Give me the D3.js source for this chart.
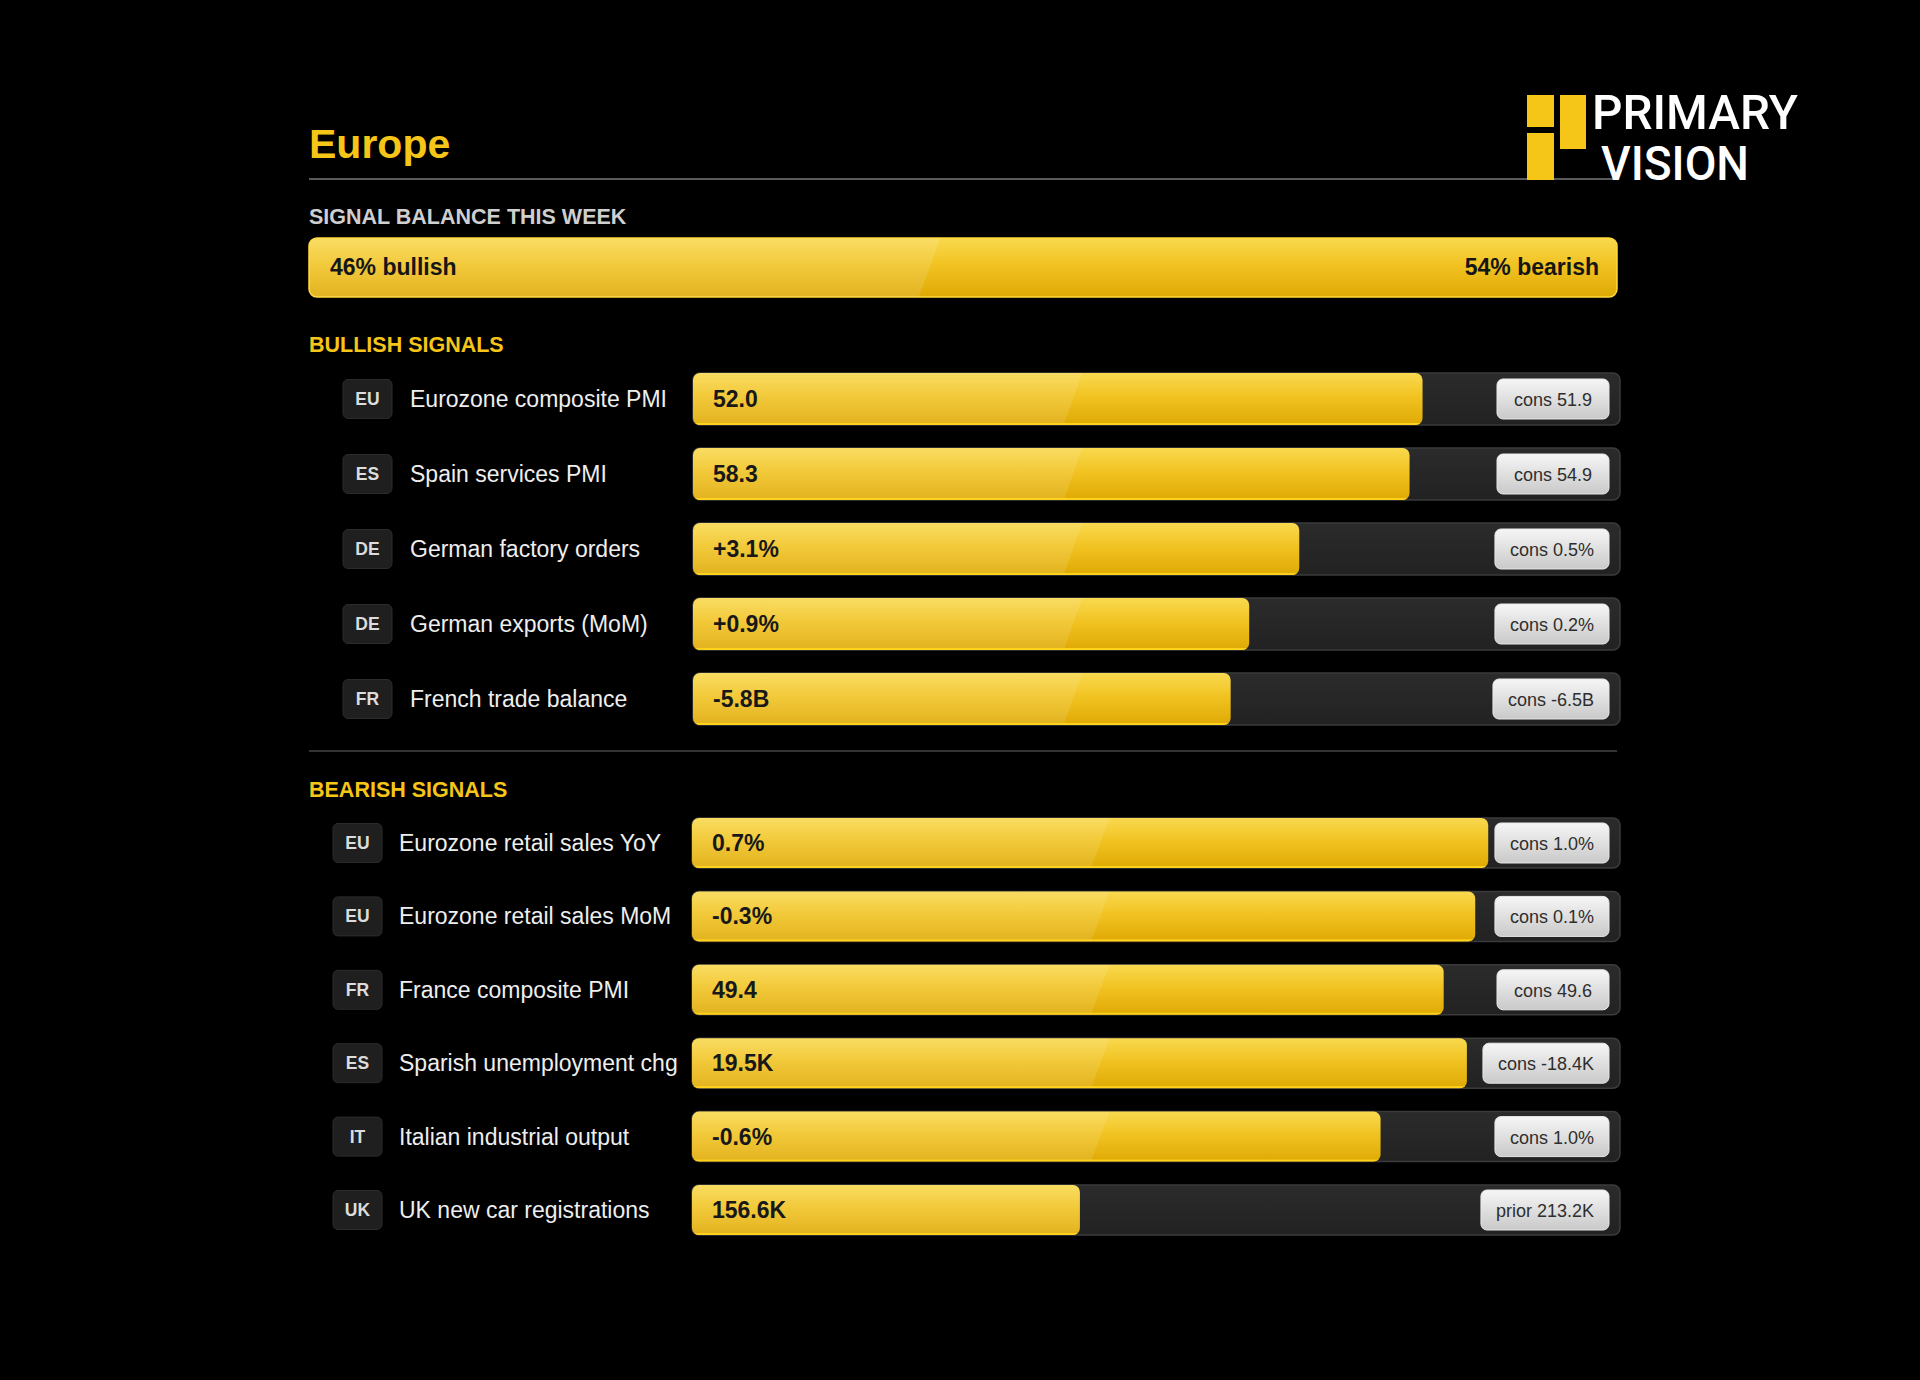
<!DOCTYPE html>
<html>
<head>
<meta charset="utf-8">
<script src="https://cdn.jsdelivr.net/npm/d3@7"></script>
<style>
  body { margin: 0; background: #000; }
  svg { display: block; }
</style>
</head>
<body>
<div id="chart"></div>
<script>
// signal balance
const balanceLabels = ["46% bullish", "54% bearish"];
const balanceShares = [46, 54];

// bullish rows
const bullishCodes = ["EU", "ES", "DE", "DE", "FR"];
const bullishNames = ["Eurozone composite PMI", "Spain services PMI", "German factory orders",
    "German exports (MoM)", "French trade balance"];
const bullishValues = ["52.0", "58.3", "+3.1%", "+0.9%", "-5.8B"];
const bullishRefs = ["cons 51.9", "cons 54.9", "cons 0.5%", "cons 0.2%", "cons -6.5B"];
const bullishScores = [78.7, 77.3, 65.4, 60.0, 58.0];

// bearish rows
const bearishCodes = ["EU", "EU", "FR", "ES", "IT", "UK"];
const bearishNames = ["Eurozone retail sales YoY", "Eurozone retail sales MoM", "France composite PMI",
    "Sparish unemployment chg", "Italian industrial output", "UK new car registrations"];
const bearishValues = ["0.7%", "-0.3%", "49.4", "19.5K", "-0.6%", "156.6K"];
const bearishRefs = ["cons 1.0%", "cons 0.1%", "cons 49.6", "cons -18.4K", "cons 1.0%", "prior 213.2K"];
const bearishScores = [85.8, 84.4, 81.0, 83.5, 74.2, 41.8];

const W = 1920, H = 1380;
const font = "'Liberation Sans', Arial, sans-serif";
const yellow = "#f5c518";

const svg = d3.select("#chart")
    .append("svg")
    .attr("width", W)
    .attr("height", H)
    .style("background", "#000");

const defs = svg.append("defs");

const gold = defs.append("linearGradient")
    .attr("id", "gold").attr("x1", 0).attr("y1", 0).attr("x2", 0).attr("y2", 1);
gold.append("stop").attr("offset", "0%").attr("stop-color", "#f9d94f");
gold.append("stop").attr("offset", "45%").attr("stop-color", "#f1c322");
gold.append("stop").attr("offset", "100%").attr("stop-color", "#dfa904");

const pill = defs.append("linearGradient")
    .attr("id", "pill").attr("x1", 0).attr("y1", 0).attr("x2", 0).attr("y2", 1);
pill.append("stop").attr("offset", "0%").attr("stop-color", "#f6f6f6");
pill.append("stop").attr("offset", "100%").attr("stop-color", "#c9c9c9");

const track = defs.append("linearGradient")
    .attr("id", "track").attr("x1", 0).attr("y1", 0).attr("x2", 0).attr("y2", 1);
track.append("stop").attr("offset", "0%").attr("stop-color", "#2b2b2b");
track.append("stop").attr("offset", "100%").attr("stop-color", "#222");

// header
svg.append("text")
    .attr("x", 309).attr("y", 158)
    .attr("font-family", font).attr("font-weight", "bold").attr("font-size", 41)
    .attr("fill", yellow)
    .text("Europe");

svg.append("line")
    .attr("x1", 309).attr("x2", 1617).attr("y1", 179).attr("y2", 179)
    .attr("stroke", "#5a5a5a").attr("stroke-width", 2);

// logo
const logo = svg.append("g");
logo.append("rect").attr("x", 1527).attr("y", 95).attr("width", 27).attr("height", 32).attr("fill", yellow);
logo.append("rect").attr("x", 1527).attr("y", 133).attr("width", 27).attr("height", 47).attr("fill", yellow);
logo.append("rect").attr("x", 1560).attr("y", 95).attr("width", 26).attr("height", 54).attr("fill", yellow);
const logoText = logo.append("text")
    .attr("font-family", "Roboto, sans-serif").attr("font-weight", 500).attr("font-size", 49)
    .attr("fill", "#fff");
logoText.append("tspan")
    .attr("x", 1592).attr("y", 129)
    .attr("textLength", 206).attr("lengthAdjust", "spacingAndGlyphs")
    .text("PRIMARY");
logoText.append("tspan")
    .attr("x", 1601).attr("y", 180)
    .attr("textLength", 148).attr("lengthAdjust", "spacingAndGlyphs")
    .text("VISION");

// signal balance bar
svg.append("text")
    .attr("x", 309).attr("y", 224)
    .attr("font-family", font).attr("font-weight", "bold").attr("font-size", 21.5)
    .attr("fill", "#cfcfcf")
    .text("SIGNAL BALANCE THIS WEEK");

const xBal = d3.scaleLinear().domain([0, 100]).range([309, 1617]);
const balTop = 238, balH = 59;
const cum = d3.cumsum(balanceShares);

svg.append("rect")
    .attr("x", xBal(0)).attr("y", balTop)
    .attr("width", xBal(100) - xBal(0)).attr("height", balH)
    .attr("rx", 8).attr("fill", "url(#gold)")
    .attr("stroke", "#ffd83a").attr("stroke-width", 1.5);

defs.append("clipPath").attr("id", "balClip")
    .append("rect")
    .attr("x", xBal(0)).attr("y", balTop)
    .attr("width", xBal(100) - xBal(0)).attr("height", balH).attr("rx", 8);

// lighter bullish side with slanted edge
svg.append("path")
    .attr("clip-path", "url(#balClip)")
    .attr("d", `M${xBal(0)},${balTop} L${xBal(cum[0]) + 30},${balTop} L${xBal(cum[0]) + 8},${balTop + balH} L${xBal(0)},${balTop + balH} Z`)
    .attr("fill", "#fff").attr("opacity", 0.12);

svg.append("text")
    .attr("x", xBal(0) + 21).attr("y", 275)
    .attr("font-family", font).attr("font-weight", "bold").attr("font-size", 23)
    .attr("fill", "#161616")
    .text(balanceLabels[0]);
svg.append("text")
    .attr("x", xBal(100) - 18).attr("y", 275)
    .attr("text-anchor", "end")
    .attr("font-family", font).attr("font-weight", "bold").attr("font-size", 23)
    .attr("fill", "#161616")
    .text(balanceLabels[1]);

// signal groups
function drawGroup(opts) {
    const n = opts.codes.length;
    const y = d3.scaleBand()
        .domain(d3.range(n))
        .range(opts.yRange)
        .paddingInner(opts.pad);
    const x = d3.scaleLinear().domain([0, 100]).range([opts.x0, 1620]);

    svg.append("text")
        .attr("x", 309).attr("y", opts.titleY)
        .attr("font-family", font).attr("font-weight", "bold").attr("font-size", 21.5)
        .attr("fill", yellow)
        .text(opts.title);

    const rows = svg.selectAll(null)
        .data(d3.range(n))
        .join("g")
        .attr("transform", i => `translate(0,${y(i)})`);

    const bh = y.bandwidth();

    // country badge
    rows.append("rect")
        .attr("x", opts.badgeX).attr("y", bh / 2 - 19.5)
        .attr("width", 49).attr("height", 39).attr("rx", 5)
        .attr("fill", "#1f1f1f").attr("stroke", "#2c2c2c");
    rows.append("text")
        .attr("x", opts.badgeX + 24.5).attr("y", bh / 2 + 6)
        .attr("text-anchor", "middle")
        .attr("font-family", font).attr("font-weight", "bold").attr("font-size", 17.5)
        .attr("fill", "#dcdcdc")
        .text(i => opts.codes[i]);

    rows.append("text")
        .attr("x", opts.labelX).attr("y", bh / 2 + 8)
        .attr("font-family", font).attr("font-size", 23)
        .attr("fill", "#eeeeee")
        .text(i => opts.names[i]);

    // track
    rows.append("rect")
        .attr("x", x(0)).attr("y", 0)
        .attr("width", x(100) - x(0)).attr("height", bh).attr("rx", 7)
        .attr("fill", "url(#track)").attr("stroke", "#3b3b3b").attr("stroke-width", 1.5);

    // fill
    rows.append("clipPath")
        .attr("id", i => `${opts.id}clip${i}`)
        .append("rect")
        .attr("x", x(0)).attr("y", 0)
        .attr("width", i => x(opts.scores[i]) - x(0)).attr("height", bh).attr("rx", 7);

    rows.append("rect")
        .attr("x", x(0)).attr("y", 0)
        .attr("width", i => x(opts.scores[i]) - x(0)).attr("height", bh).attr("rx", 7)
        .attr("fill", "url(#gold)");

    rows.append("path")
        .attr("clip-path", i => `url(#${opts.id}clip${i})`)
        .attr("d", `M${x(0)},0 L${x(opts.sheen[0])},0 L${x(opts.sheen[1])},${bh} L${x(0)},${bh} Z`)
        .attr("fill", "#fff").attr("opacity", 0.11);

    rows.append("rect")
        .attr("clip-path", i => `url(#${opts.id}clip${i})`)
        .attr("x", x(0)).attr("y", bh - 2)
        .attr("width", i => x(opts.scores[i]) - x(0)).attr("height", 2)
        .attr("fill", "#ffd21c");

    rows.append("text")
        .attr("x", x(0) + 20).attr("y", bh / 2 + 8)
        .attr("font-family", font).attr("font-weight", "bold").attr("font-size", 23)
        .attr("fill", "#181818")
        .text(i => opts.values[i]);

    // reference pill
    rows.each(function (i) {
        const g = d3.select(this);
        const t = g.append("text")
            .attr("y", bh / 2 + 7)
            .attr("text-anchor", "middle")
            .attr("font-family", font).attr("font-size", 18)
            .attr("fill", "#2e2e2e")
            .text(opts.refs[i]);
        const tw = t.node().getComputedTextLength();
        const pw = Math.max(112, tw + 30);
        const px = 1609 - pw;
        g.insert("rect", "text:last-child")
            .attr("x", px).attr("y", bh / 2 - 20)
            .attr("width", pw).attr("height", 40).attr("rx", 6)
            .attr("fill", "url(#pill)").attr("stroke", "#e8e8e8").attr("stroke-width", 1);
        t.attr("x", px + pw / 2);
    });
}

drawGroup({
    id: "bull", title: "BULLISH SIGNALS", titleY: 352,
    codes: bullishCodes, names: bullishNames, values: bullishValues,
    refs: bullishRefs, scores: bullishScores,
    yRange: [373, 725], pad: 0.307, x0: 693, badgeX: 343, labelX: 410,
    sheen: [42, 40]
});

svg.append("line")
    .attr("x1", 309).attr("x2", 1617).attr("y1", 751).attr("y2", 751)
    .attr("stroke", "#444").attr("stroke-width", 1.5);

drawGroup({
    id: "bear", title: "BEARISH SIGNALS", titleY: 797,
    codes: bearishCodes, names: bearishNames, values: bearishValues,
    refs: bearishRefs, scores: bearishScores,
    yRange: [818, 1235], pad: 0.319, x0: 692, badgeX: 333, labelX: 399,
    sheen: [45, 43]
});
</script>
</body>
</html>
